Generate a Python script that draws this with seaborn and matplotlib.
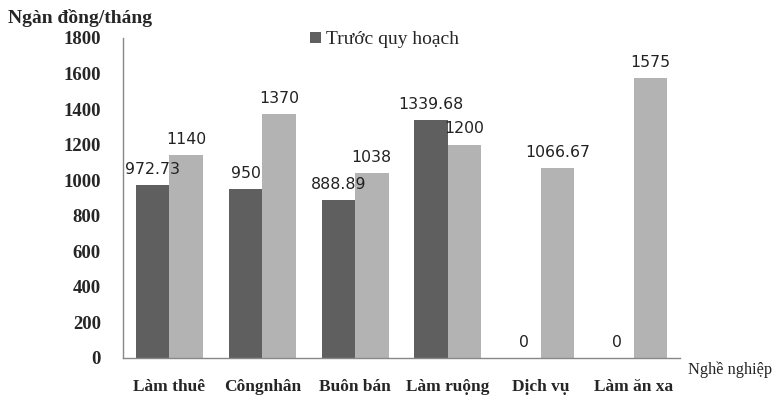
import numpy as np
import pandas as pd
import matplotlib
matplotlib.use("Agg")
import matplotlib.pyplot as plt
import seaborn as sns

# data
nghe = ["Làm thuê", "Côngnhân", "Buôn bán", "Làm ruộng", "Dịch vụ", "Làm ăn xa"]
truoc = [972.73, 950, 888.89, 1339.68, 0, 0]
sau = [1140, 1370, 1038, 1200, 1066.67, 1575]
y_ticks = [0, 200, 400, 600, 800, 1000, 1200, 1400, 1600, 1800]

df = pd.DataFrame({
    "nghe": nghe * 2,
    "thu_nhap": truoc + sau,
    "giai_doan": ["Trước quy hoạch"] * len(nghe) + ["Sau quy hoạch"] * len(nghe),
})

sns.set_style("white")
plt.rcParams["font.family"] = ["Liberation Serif", "DejaVu Serif"]

fig = plt.figure(figsize=(7.76, 3.98), dpi=100)
ax = fig.add_axes([123 / 776, 1 - 358 / 398, (680 - 123) / 776, (358 - 38) / 398])

sns.barplot(data=df, x="nghe", y="thu_nhap", hue="giai_doan",
            palette=["#5f5f5f", "#b3b3b3"], width=0.72, saturation=1,
            linewidth=0, legend=False, ax=ax)

for cont in ax.containers:
    ax.bar_label(cont, labels=[f"{v:g}" for v in cont.datavalues], padding=6,
                 fontsize=11.3, family=["DejaVu Sans"], color="#222222")

ax.set_ylim(0, 1800)
ax.set_xlim(-0.5, 5.5)
ax.set_yticks(y_ticks)
ax.set_yticklabels([str(t) for t in y_ticks], fontsize=13.5, fontweight="bold")
ax.tick_params(axis="both", length=0)
ax.tick_params(axis="y", pad=16)
ax.tick_params(axis="x", pad=15, labelsize=12.5)
for lab in ax.get_xticklabels():
    lab.set_fontweight("bold")
ax.set_xlabel("")
ax.set_ylabel("")

for side in ["top", "right"]:
    ax.spines[side].set_visible(False)
for side in ["left", "bottom"]:
    ax.spines[side].set_color("#888888")
    ax.spines[side].set_linewidth(1)

fig.text(8 / 776, 1 - 18 / 398, "Ngàn đồng/tháng", fontsize=14, fontweight="bold",
         va="center", ha="left")
fig.text(772 / 776, 1 - 370 / 398, "Nghề nghiệp", fontsize=11.8, va="center", ha="right")

fig.legend(handles=[ax.containers[0].patches[0]], labels=["Trước quy hoạch"],
           loc="center left", bbox_to_anchor=(310 / 776, 1 - 40 / 398), frameon=False,
           fontsize=14, handlelength=0.55, handleheight=0.55, handletextpad=0.25,
           borderpad=0, borderaxespad=0)

fig.savefig("out.png", dpi=100)
